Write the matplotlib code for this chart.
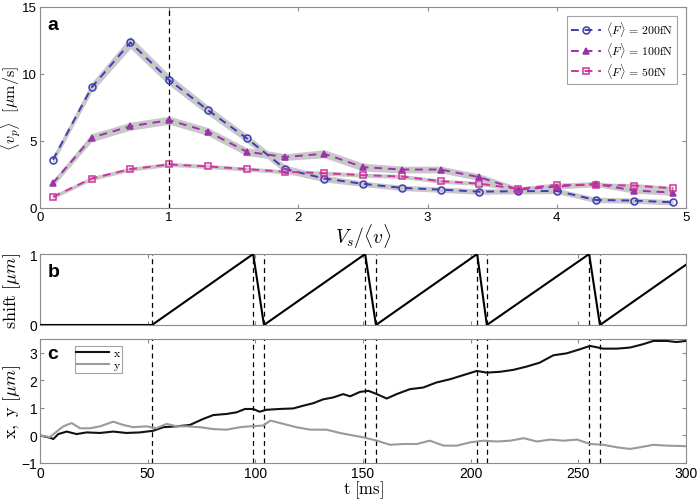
import matplotlib
matplotlib.use("Agg")
import matplotlib.pyplot as plt

plt.rcParams['mathtext.fontset'] = 'cm'
plt.rcParams['font.family'] = ['Liberation Sans', 'DejaVu Sans']

# panel a: mean velocity vs shift speed
vs = [0.1, 0.4, 0.7, 1.0, 1.3, 1.6, 1.9, 2.2, 2.5, 2.8, 3.1, 3.4, 3.7, 4.0, 4.3, 4.6, 4.9]
v200 = [3.6, 9.0, 12.35, 9.55, 7.3, 5.2, 2.9, 2.2, 1.8, 1.5, 1.37, 1.22, 1.25, 1.27, 0.6, 0.55, 0.42]
v100 = [1.85, 5.25, 6.1, 6.55, 5.7, 4.2, 3.8, 4.05, 3.05, 2.87, 2.87, 2.3, 1.37, 1.6, 1.8, 1.3, 1.15]
v50 = [0.83, 2.2, 2.9, 3.25, 3.1, 2.9, 2.7, 2.6, 2.45, 2.35, 2.0, 1.82, 1.42, 1.72, 1.72, 1.67, 1.47]
e200 = [0.3, 0.35, 0.45, 0.4, 0.35, 0.3, 0.3, 0.25, 0.2, 0.2, 0.2, 0.2, 0.2, 0.2, 0.2, 0.2, 0.2]
e100 = [0.25, 0.3, 0.3, 0.3, 0.3, 0.3, 0.25, 0.3, 0.3, 0.25, 0.25, 0.25, 0.2, 0.2, 0.2, 0.2, 0.2]
e50 = [0.15, 0.15, 0.15, 0.15, 0.15, 0.15, 0.15, 0.15, 0.15, 0.15, 0.15, 0.15, 0.15, 0.15, 0.15, 0.15, 0.15]

# panel b: shift of the potential
shift_t = [0, 52, 99, 104, 151, 156, 203, 207.5, 255, 260, 300]
shift_val = [0, 0, 1, 0, 1, 0, 1, 0, 1, 0, 0.85]
switch_t = [52, 99, 104, 151, 156, 203, 207.5, 255, 260]

# panel c: trajectory
tx = [0, 4.6, 6.2, 8.5, 12.4, 17, 21.7, 27.9, 34, 40.2, 46.4, 52.6, 57.3, 63.4, 69.6, 75.8,
      80.5, 86.7, 91.3, 95.2, 99, 102, 105, 111, 117.6, 122.3, 126.9, 131.5, 136.2, 140.8,
      144, 148.6, 152.5, 156.4, 161, 165.6, 171.8, 178, 184, 190.4, 196.6, 202.8, 207.5,
      213.6, 219.8, 226, 232, 238.4, 244.6, 250.8, 255.4, 261.6, 267.8, 274, 280, 284.8,
      291, 295.6, 300]
x = [0, -0.08, -0.13, 0.05, 0.14, 0.05, 0.11, 0.09, 0.14, 0.09, 0.11, 0.17, 0.3, 0.33, 0.38, 0.6,
     0.74, 0.78, 0.84, 0.96, 0.96, 0.86, 0.93, 0.96, 0.98, 1.08, 1.17, 1.31, 1.38, 1.5,
     1.42, 1.58, 1.62, 1.5, 1.34, 1.5, 1.68, 1.74, 1.92, 2.04, 2.19, 2.34, 2.28,
     2.31, 2.38, 2.5, 2.64, 2.91, 2.98, 3.13, 3.25, 3.15, 3.15, 3.19, 3.31, 3.43,
     3.43, 3.39, 3.43]
ty = [0, 4.6, 10.8, 14.7, 18.6, 23.2, 27.9, 34, 38.7, 43.3, 49.5, 54, 58.8, 63.4, 68.1, 74.3,
      80.5, 86.7, 92.9, 97.5, 103.7, 107, 113, 119, 125.4, 133, 139.3, 144, 150.2, 156.4,
      162.6, 168.8, 175, 181, 187.4, 193.6, 199.8, 206, 212.2, 218.4, 224.6, 230.8, 237,
      243, 249.4, 255.4, 261.6, 267.8, 274, 278.6, 284.8, 291, 300]
y = [0, -0.06, 0.33, 0.45, 0.26, 0.26, 0.33, 0.5, 0.38, 0.3, 0.33, 0.26, 0.42, 0.33, 0.33, 0.3,
     0.23, 0.21, 0.3, 0.33, 0.36, 0.54, 0.42, 0.3, 0.21, 0.21, 0.09, 0.02, -0.07, -0.19,
     -0.34, -0.31, -0.31, -0.19, -0.37, -0.37, -0.25, -0.19, -0.22, -0.19, -0.1, -0.22, -0.15,
     -0.19, -0.15, -0.31, -0.34, -0.43, -0.49, -0.43, -0.34, -0.37, -0.39]

def style(ax, lx=-0.026, ls=10):
    for s in ax.spines.values():
        s.set_color('#8c8c8c')
        s.set_linewidth(0.8)
    ax.tick_params(direction='in', top=True, right=True, length=3, labelsize=ls, pad=2,
                   color='#8c8c8c')
    ax.yaxis.set_label_coords(lx, 0.5)

fig = plt.figure(figsize=(7, 5.02), dpi=100)
ax_a = fig.add_axes([0.0571, 0.5837, 0.923, 0.4004])
ax_b = fig.add_axes([0.0571, 0.3506, 0.923, 0.1414])
ax_c = fig.add_axes([0.0571, 0.0757, 0.923, 0.247])

# panel a
series = [(v200, e200, '#3d3db5', 'o', 'none', r'$\langle F\rangle\, =\, 200\mathrm{fN}$'),
          (v100, e100, '#9a34a8', '^', '#9a34a8', r'$\langle F\rangle\, =\, 100\mathrm{fN}$'),
          (v50, e50, '#d0359e', 's', 'none', r'$\langle F\rangle\, =\, 50\mathrm{fN}$')]
for vals, err, col, mk, fc, lab in series:
    lo = [v - e for v, e in zip(vals, err)]
    hi = [v + e for v, e in zip(vals, err)]
    ax_a.fill_between(vs, lo, hi, color='#c8c8c8', lw=0, zorder=1)
    ax_a.plot(vs, vals, ls='--', color=col, marker=mk, mfc=fc, mec=col, ms=5, mew=1.1,
              lw=1.4, dashes=(4, 3), label=lab, zorder=3)
ax_a.axvline(1, color='k', ls='--', lw=0.9, dashes=(4, 3), zorder=2)
ax_a.set_xlim(0, 5)
ax_a.set_ylim(0, 15)
ax_a.set_xticks([0, 1, 2, 3, 4, 5])
ax_a.set_yticks([0, 5, 10, 15])
ax_a.set_xlabel(r'$V_s/\langle v\rangle$', fontsize=14, labelpad=-1)
ax_a.set_ylabel(r'$\langle v_p\rangle\ \ [\mu\mathrm{m/s}]$', fontsize=11.5)
leg = ax_a.legend(loc='upper right', fontsize=8.5, frameon=True, fancybox=False,
                  handlelength=2.6, borderpad=0.3, labelspacing=0.15, handletextpad=0.4,
                  bbox_to_anchor=(0.995, 0.985))
leg.get_frame().set_edgecolor('#8c8c8c')
leg.get_frame().set_linewidth(0.8)
ax_a.text(0.012, 0.955, 'a', transform=ax_a.transAxes, fontsize=14, fontweight='bold',
          va='top', ha='left')
style(ax_a, -0.0255, 9.5)

# panel b
ax_b.plot(shift_t, shift_val, color='k', lw=1.5, zorder=3)
for t in switch_t:
    ax_b.axvline(t, color='k', ls='--', lw=0.9, dashes=(4, 3), zorder=2)
ax_b.set_xlim(0, 300)
ax_b.set_ylim(0, 1)
ax_b.set_yticks([0, 1])
ax_b.set_xticks([0, 50, 100, 150, 200, 250, 300])
ax_b.set_xticklabels([])
ax_b.set_ylabel(r'$\mathrm{shift}\ [\mu m]$', fontsize=13)
ax_b.text(0.012, 0.88, 'b', transform=ax_b.transAxes, fontsize=14, fontweight='bold',
          va='top', ha='left')
style(ax_b)

# panel c
ax_c.plot(tx, x, color='#111111', lw=1.5, label=r'$\mathrm{x}$', zorder=3)
ax_c.plot(ty, y, color='#9a9a9a', lw=1.5, label=r'$\mathrm{y}$', zorder=3)
for t in switch_t:
    ax_c.axvline(t, color='k', ls='--', lw=0.9, dashes=(4, 3), zorder=2)
ax_c.set_xlim(0, 300)
ax_c.set_ylim(-1, 3.5)
ax_c.set_yticks([-1, 0, 1, 2, 3])
ax_c.set_xticks([0, 50, 100, 150, 200, 250, 300])
ax_c.set_xlabel(r'$\mathrm{t\ [ms]}$', fontsize=12, labelpad=-1)
ax_c.set_ylabel(r'$\mathrm{x,\ y}\ [\mu m]$', fontsize=13)
leg_c = ax_c.legend(loc='upper left', fontsize=8.5, frameon=True, fancybox=False,
                    handlelength=2.8, borderpad=0.1, labelspacing=0.0, handletextpad=0.3,
                    bbox_to_anchor=(0.045, 0.995))
leg_c.get_frame().set_edgecolor('#8c8c8c')
leg_c.get_frame().set_linewidth(0.8)
ax_c.text(0.012, 0.95, 'c', transform=ax_c.transAxes, fontsize=14, fontweight='bold',
          va='top', ha='left')
style(ax_c)

fig.savefig('out.png', dpi=100)
